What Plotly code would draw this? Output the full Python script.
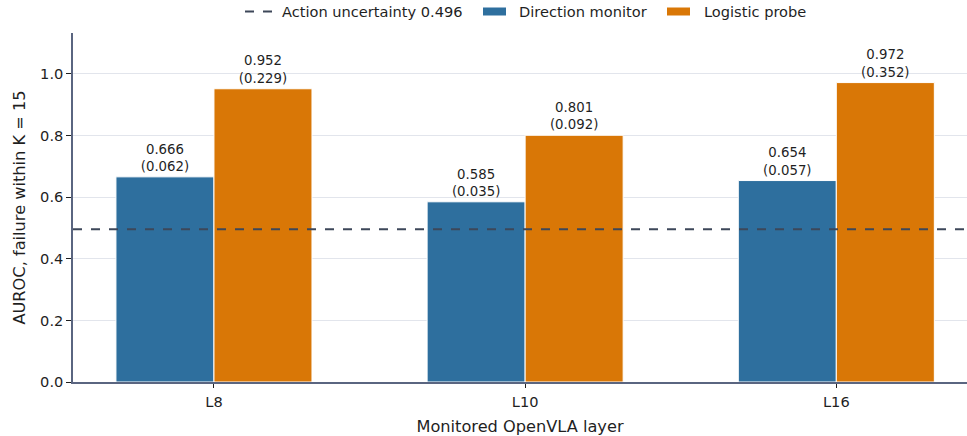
import plotly.graph_objects as go

layers = ["L8", "L10", "L16"]
direction_auroc = [0.666, 0.585, 0.654]
direction_sd = [0.062, 0.035, 0.057]
probe_auroc = [0.952, 0.801, 0.972]
probe_sd = [0.229, 0.092, 0.352]
baseline = 0.496

BLUE = "#2e6f9e"
ORANGE = "#d97706"
DASH = "#3d4759"
AXIS = "#5a6580"
TEXT = "#1f1f1f"
FONT = "DejaVu Sans"

W, H = 967, 436
L, R, T, B = 73, 0, 33, 54
PW, PH = W - L - R, H - T - B


def px(x):
    return (x - L) / PW


def py(y):
    return (H - B - y) / PH


fig = go.Figure()
fig.add_trace(go.Bar(
    x=layers, y=direction_auroc, name="Direction monitor",
    marker=dict(color=BLUE, line=dict(color="white", width=1)),
    text=[f"{v:.3f}<br>({s:.3f})" for v, s in zip(direction_auroc, direction_sd)],
    textposition="outside", cliponaxis=False,
    textfont=dict(size=13.3, color=TEXT, family=FONT),
))
fig.add_trace(go.Bar(
    x=layers, y=probe_auroc, name="Logistic probe",
    marker=dict(color=ORANGE, line=dict(color="white", width=1)),
    text=[f"{v:.3f}<br>({s:.3f})" for v, s in zip(probe_auroc, probe_sd)],
    textposition="outside", cliponaxis=False,
    textfont=dict(size=13.3, color=TEXT, family=FONT),
))
fig.add_shape(type="line", xref="paper", x0=0, x1=1, yref="y", y0=baseline, y1=baseline,
              line=dict(color=DASH, width=2, dash="dash"))

# manual legend
legend_y = py(11.5)
fig.add_shape(type="line", xref="paper", yref="paper", x0=px(245), x1=px(273),
              y0=legend_y, y1=legend_y, line=dict(color=DASH, width=2, dash="dash"))
fig.add_shape(type="rect", xref="paper", yref="paper", x0=px(483), x1=px(506),
              y0=py(15.5), y1=py(7.5), fillcolor=BLUE, line=dict(width=0))
fig.add_shape(type="rect", xref="paper", yref="paper", x0=px(667), x1=px(690),
              y0=py(15.5), y1=py(7.5), fillcolor=ORANGE, line=dict(width=0))
for xpos, label in [(280, f"Action uncertainty {baseline}"), (517, "Direction monitor"),
                    (702, "Logistic probe")]:
    fig.add_annotation(xref="paper", yref="paper", x=px(xpos), y=legend_y, text=label,
                       showarrow=False, xanchor="left", yanchor="middle",
                       font=dict(size=14.6, color=TEXT, family=FONT))

fig.update_layout(
    width=W, height=H,
    margin=dict(l=L, r=R, t=T, b=B),
    paper_bgcolor="white", plot_bgcolor="white",
    font=dict(family=FONT, size=14.6, color=TEXT),
    barmode="group", bargap=0.37, bargroupgap=0,
    showlegend=False,
    xaxis=dict(
        type="category", range=[-0.453, 2.42], showline=True, linecolor=AXIS, linewidth=1.5,
        ticks="outside", ticklen=4, tickcolor=TEXT, showgrid=False, automargin=False,
        tickfont=dict(size=14.6), ticklabelstandoff=2,
        title=dict(text="Monitored OpenVLA layer", font=dict(size=16.2), standoff=11),
    ),
    yaxis=dict(
        range=[0, 1.133], tickvals=[0, 0.2, 0.4, 0.6, 0.8, 1.0], tickformat=".1f",
        showline=True, linecolor=AXIS, linewidth=1.5,
        ticks="outside", ticklen=5, tickcolor=TEXT, automargin=False,
        tickfont=dict(size=14.6),
        showgrid=True, gridcolor="#e2e5ec", gridwidth=1, zeroline=False,
        title=dict(text="AUROC, failure within K = 15", font=dict(size=16.2), standoff=10),
    ),
)

fig.write_html("out.html", config={"displayModeBar": False},
               post_script="document.body.style.margin='0';")
